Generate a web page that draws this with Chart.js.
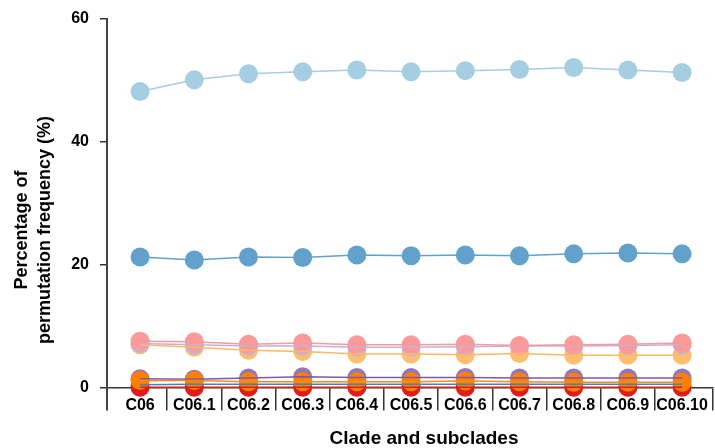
<!DOCTYPE html>
<html><head><meta charset="utf-8">
<script src="https://cdn.jsdelivr.net/npm/chart.js@4.4.1/dist/chart.umd.min.js"></script>
<style>html,body{margin:0;padding:0;background:#fff}canvas{display:block}</style>
</head><body>
<canvas id="c" width="715" height="448"></canvas>
<script>
const categories = ['C06','C06.1','C06.2','C06.3','C06.4','C06.5','C06.6','C06.7','C06.8','C06.9','C06.10'];
const lightBlue   = [48.2,50.1,51.1,51.4,51.7,51.4,51.6,51.8,52.1,51.7,51.3];
const midBlue     = [21.3,20.8,21.3,21.2,21.6,21.5,21.6,21.5,21.8,21.95,21.8];
const pink        = [7.6,7.5,7.1,7.3,7.0,7.0,7.1,6.9,7.0,7.1,7.3];
const lavender    = [7.2,7.0,6.8,6.8,6.6,6.6,6.7,6.8,6.8,6.9,7.0];
const lightOrange = [7.0,6.6,6.1,5.9,5.5,5.5,5.4,5.6,5.3,5.3,5.3];
const purple      = [1.5,1.4,1.6,1.8,1.7,1.7,1.7,1.6,1.6,1.6,1.6];
const orange      = [1.2,1.2,1.0,1.0,1.0,1.0,1.1,1.0,0.9,0.9,0.9];
const blue        = [0.5,0.6,0.6,0.6,0.6,0.6,0.6,0.6,0.6,0.6,0.6];
const red         = [0.1,0.1,0.1,0.1,0.1,0.1,0.1,0.1,0.1,0.1,0.1];
const yTicks = [0,20,40,60];
const xTitle = 'Clade and subclades';
const yTitle = ['Percentage of','permutation frequency (%)'];

const series = [
  {values: lightBlue,   point:'#a6cee3', line:'#a6cee3', showPoints:true},
  {values: midBlue,     point:'#62a1cb', line:'#62a1cb', showPoints:true},
  {values: lightOrange, point:'#fdbf6f', line:'#fdb963', showPoints:true},
  {values: lavender,    point:'#c5b0d8', line:'#c5b0d8', showPoints:true},
  {values: pink,        point:'#fb9a99', line:'#fb9a99', showPoints:true},
  {values: blue,        point:'#3a88c0', line:'#3a88c0', showPoints:false},
  {values: red,         point:'#e31a1c', line:'#e31a1c', showPoints:true},
  {values: purple,      point:'#9477b8', line:'#7e57b0', showPoints:true},
  {values: orange,      point:'#ff7f00', line:'#ff8a10', showPoints:true}
];

const datasets = [];
series.forEach((s, i) => {
  const data = s.values.map((v, k) => ({x: k, y: v}));
  if (s.showPoints) {
    datasets.push({data, showLine:false, pointRadius:9.5, pointHoverRadius:9.5, pointBorderWidth:0,
      backgroundColor:s.point, pointBackgroundColor:s.point, borderColor:s.point, order: 200 - i, clip:false});
  }
  datasets.push({data, showLine:true, pointRadius:0, borderWidth:1.5, borderColor:s.line,
    backgroundColor:s.line, fill:false, tension:0, order: 100 - i, clip:false});
});

const titlePlugin = {
  id:'titles',
  afterDraw(chart) {
    const ctx = chart.ctx;
    ctx.save();
    ctx.fillStyle = '#000';
    ctx.font = 'bold 19px "Liberation Sans", Arial, sans-serif';
    ctx.textAlign = 'center';
    ctx.textBaseline = 'alphabetic';
    ctx.fillText(xTitle, 424, 444);
    ctx.font = 'bold 18px "Liberation Sans", Arial, sans-serif';
    const bases = [27, 50];
    yTitle.forEach((t, i) => {
      ctx.save();
      ctx.translate(bases[i], 230);
      ctx.rotate(-Math.PI/2);
      ctx.fillText(t, 0, 0);
      ctx.restore();
    });
    ctx.restore();
  }
};

new Chart(document.getElementById('c'), {
  type:'line',
  data:{datasets},
  options:{
    responsive:false, animation:false, devicePixelRatio:1,
    layout:{autoPadding:false, padding:{top:17, bottom:38, right:2, left:0}},
    plugins:{legend:{display:false}, tooltip:{enabled:false}},
    scales:{
      x:{
        type:'linear', position:{y:0}, min:-0.61, max:10.57,
        afterBuildTicks(scale){
          const t = [];
          for (let i = 0; i <= 10; i++) { t.push({value:i}); if (i < 10) t.push({value:i+0.5}); }
          t.push({value:10.57});
          scale.ticks = t;
        },
        grid:{drawOnChartArea:false, tickLength:22, lineWidth:1.5,
          color:(c)=> (c.tick && !Number.isInteger(c.tick.value)) ? '#333' : 'rgba(0,0,0,0)'},
        border:{display:true, color:'#333', width:1.5},
        ticks:{autoSkip:false, maxRotation:0, minRotation:0, padding:-14, color:'#000',
          font:{family:'"Liberation Sans", Arial, sans-serif', size:16, weight:'bold'},
          callback:(v)=> Number.isInteger(v) ? categories[v] : ''}
      },
      y:{
        type:'linear', min:-3.6, max:60,
        afterBuildTicks(scale){ scale.ticks = yTicks.map(v=>({value:v})); },
        afterFit(scale){ scale.width = 107; },
        grid:{drawOnChartArea:false, tickLength:7, lineWidth:1.5, color:'#333'},
        border:{display:true, color:'#444', width:2},
        ticks:{padding:11, color:'#000',
          font:{family:'"Liberation Sans", Arial, sans-serif', size:16, weight:'bold', lineHeight:1}}
      }
    }
  },
  plugins:[titlePlugin]
});
</script>
</body></html>
